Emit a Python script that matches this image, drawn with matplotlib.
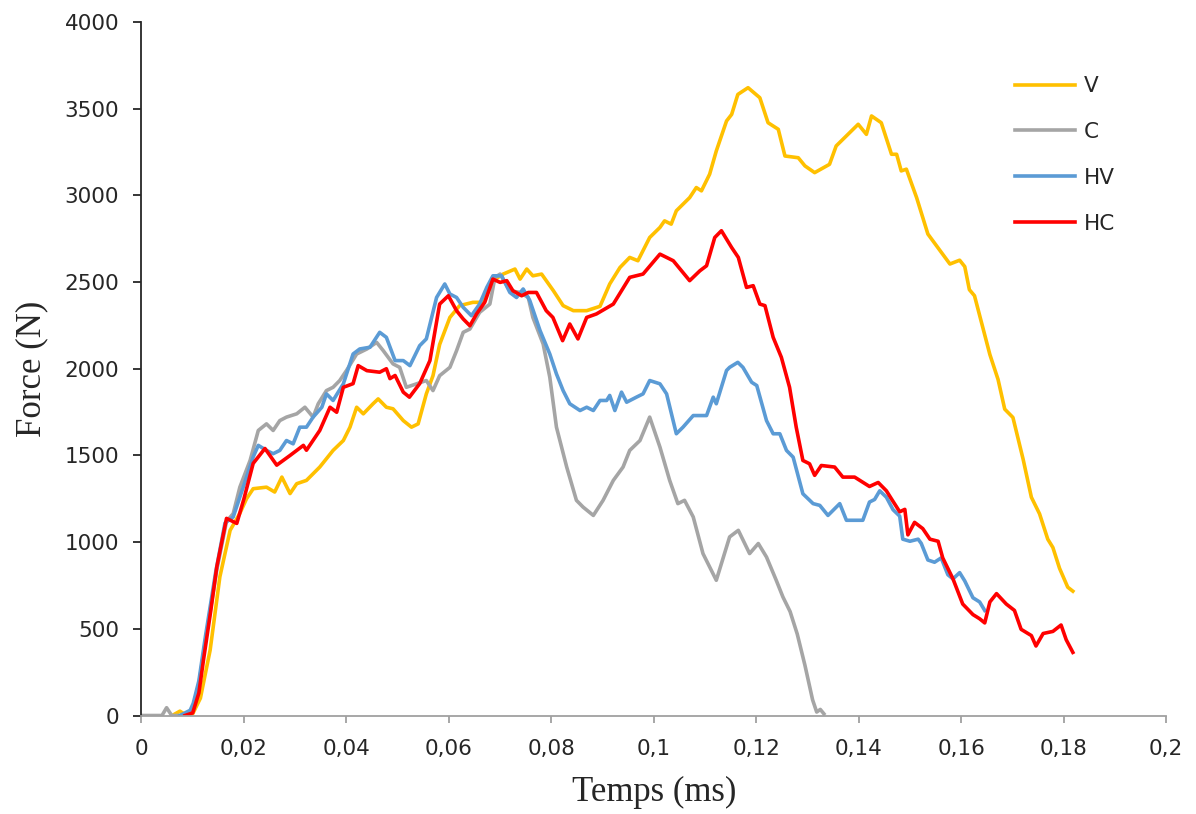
import numpy as np
import matplotlib
matplotlib.use("Agg")
import matplotlib.pyplot as plt

# values (time in ms, force in N)
v_t = [0.0060, 0.0075, 0.0088, 0.0100, 0.0115, 0.0134, 0.0153, 0.0173, 0.0192, 0.0205,
       0.0218, 0.0244, 0.0260, 0.0274, 0.0290, 0.0303, 0.0322, 0.0348, 0.0374, 0.0394,
       0.0407, 0.0420, 0.0433, 0.0452, 0.0462, 0.0478, 0.0491, 0.0511, 0.0527, 0.0540,
       0.0556, 0.0569, 0.0582, 0.0602, 0.0621, 0.0647, 0.0667, 0.0686, 0.0706, 0.0729,
       0.0739, 0.0752, 0.0764, 0.0781, 0.0804, 0.0823, 0.0843, 0.0869, 0.0895, 0.0914,
       0.0934, 0.0953, 0.0969, 0.0992, 0.1012, 0.1021, 0.1034, 0.1044, 0.1057, 0.1070,
       0.1083, 0.1093, 0.1109, 0.1122, 0.1142, 0.1152, 0.1164, 0.1184, 0.1207, 0.1223,
       0.1243, 0.1256, 0.1282, 0.1295, 0.1314, 0.1343, 0.1356, 0.1399, 0.1415, 0.1425,
       0.1444, 0.1464, 0.1474, 0.1483, 0.1493, 0.1513, 0.1535, 0.1578, 0.1597, 0.1607,
       0.1616, 0.1626, 0.1656, 0.1672, 0.1685, 0.1701, 0.1721, 0.1737, 0.1753, 0.1769,
       0.1779, 0.1792, 0.1808, 0.1818]
v_f = [0, 25, 0, 10, 100, 377, 800, 1068, 1166, 1250,
       1308, 1317, 1289, 1375, 1280, 1337, 1356, 1433, 1529, 1586,
       1663, 1778, 1740, 1798, 1826, 1778, 1769, 1701, 1663, 1682,
       1855, 1960, 2140, 2296, 2364, 2383, 2383, 2508, 2546, 2575,
       2517, 2575, 2536, 2546, 2450, 2364, 2335, 2335, 2360, 2489,
       2584, 2642, 2623, 2757, 2815, 2853, 2834, 2911, 2949, 2987,
       3045, 3026, 3122, 3256, 3429, 3467, 3582, 3621, 3563, 3419,
       3381, 3227, 3217, 3170, 3131, 3179, 3285, 3410, 3352, 3458,
       3419, 3237, 3237, 3141, 3151, 2987, 2777, 2604, 2626, 2589,
       2456, 2421, 2082, 1938, 1767, 1719, 1477, 1259, 1163, 1017,
       969, 849, 740, 717]

c_t = [0.0, 0.0040, 0.0049, 0.0059, 0.0090, 0.0100, 0.0112, 0.0127, 0.0147, 0.0166,
       0.0179, 0.0192, 0.0212, 0.0228, 0.0244, 0.0257, 0.0270, 0.0283, 0.0303, 0.0319,
       0.0335, 0.0345, 0.0361, 0.0374, 0.0387, 0.0400, 0.0420, 0.0440, 0.0459, 0.0472,
       0.0491, 0.0504, 0.0517, 0.0537, 0.0556, 0.0569, 0.0582, 0.0602, 0.0615, 0.0628,
       0.0641, 0.0660, 0.0680, 0.0690, 0.0700, 0.0719, 0.0739, 0.0755, 0.0764, 0.0784,
       0.0797, 0.0810, 0.0830, 0.0849, 0.0862, 0.0882, 0.0901, 0.0921, 0.0940, 0.0953,
       0.0973, 0.0992, 0.1012, 0.1031, 0.1047, 0.1060, 0.1077, 0.1096, 0.1122, 0.1148,
       0.1165, 0.1187, 0.1204, 0.1220, 0.1239, 0.1252, 0.1266, 0.1280, 0.1295, 0.1310,
       0.1318, 0.1325, 0.1332]
c_f = [0, 0, 45, 0, 0, 40, 180, 470, 840, 1120,
       1164, 1317, 1471, 1644, 1682, 1644, 1701, 1721, 1740, 1778,
       1721, 1798, 1874, 1893, 1932, 1989, 2085, 2114, 2152, 2104,
       2028, 2008, 1893, 1913, 1932, 1874, 1960, 2008, 2104, 2210,
       2229, 2325, 2373, 2527, 2546, 2450, 2440, 2411, 2296, 2143,
       1951, 1663, 1433, 1241, 1202, 1154, 1241, 1356, 1433, 1529,
       1586, 1721, 1548, 1356, 1222, 1241, 1145, 934, 780, 1030,
       1068, 934, 992, 914, 780, 684, 600, 470, 290, 90,
       20, 35, 10]

hv_t = [0.0075, 0.0095, 0.0101, 0.0112, 0.0125, 0.0145, 0.0163, 0.0179, 0.0200, 0.0218,
        0.0228, 0.0244, 0.0257, 0.0270, 0.0283, 0.0296, 0.0309, 0.0322, 0.0335, 0.0352,
        0.0361, 0.0374, 0.0394, 0.0413, 0.0426, 0.0446, 0.0465, 0.0478, 0.0495, 0.0511,
        0.0524, 0.0543, 0.0556, 0.0576, 0.0592, 0.0602, 0.0615, 0.0628, 0.0644, 0.0660,
        0.0674, 0.0686, 0.0703, 0.0719, 0.0732, 0.0745, 0.0758, 0.0778, 0.0797, 0.0810,
        0.0823, 0.0836, 0.0856, 0.0869, 0.0882, 0.0895, 0.0908, 0.0914, 0.0924, 0.0937,
        0.0947, 0.0966, 0.0979, 0.0992, 0.1012, 0.1025, 0.1044, 0.1057, 0.1077, 0.1103,
        0.1116, 0.1122, 0.1142, 0.1148, 0.1164, 0.1174, 0.1191, 0.1201, 0.1220, 0.1233,
        0.1246, 0.1259, 0.1272, 0.1291, 0.1311, 0.1324, 0.1340, 0.1363, 0.1376, 0.1408,
        0.1421, 0.1431, 0.1441, 0.1454, 0.1467, 0.1480, 0.1486, 0.1500, 0.1516, 0.1522,
        0.1535, 0.1548, 0.1561, 0.1574, 0.1584, 0.1597, 0.1607, 0.1623, 0.1636, 0.1646]
hv_f = [0, 30, 70, 200, 460, 830, 1110, 1145, 1330, 1491,
        1558, 1529, 1510, 1529, 1586, 1567, 1663, 1663, 1721, 1778,
        1855, 1817, 1913, 2085, 2114, 2124, 2210, 2181, 2047, 2047,
        2018, 2133, 2172, 2411, 2489, 2431, 2411, 2354, 2306, 2373,
        2469, 2536, 2536, 2440, 2411, 2460, 2393, 2220, 2085, 1970,
        1874, 1798, 1759, 1778, 1759, 1817, 1817, 1846, 1759, 1865,
        1807, 1836, 1855, 1932, 1913, 1855, 1625, 1663, 1730, 1730,
        1836, 1798, 1990, 2008, 2037, 2008, 1922, 1903, 1701, 1625,
        1625, 1529, 1490, 1279, 1222, 1212, 1154, 1222, 1126, 1126,
        1231, 1246, 1296, 1259, 1187, 1150, 1017, 1005, 1017, 993,
        897, 884, 909, 812, 788, 824, 776, 679, 655, 606]

hc_t = [0.0085, 0.0100, 0.0112, 0.0121, 0.0135, 0.0147, 0.0166, 0.0186, 0.0200, 0.0218,
        0.0241, 0.0264, 0.0290, 0.0316, 0.0322, 0.0348, 0.0368, 0.0381, 0.0394, 0.0413,
        0.0423, 0.0440, 0.0465, 0.0478, 0.0485, 0.0495, 0.0511, 0.0523, 0.0543, 0.0563,
        0.0582, 0.0599, 0.0615, 0.0628, 0.0641, 0.0654, 0.0670, 0.0686, 0.0700, 0.0713,
        0.0725, 0.0742, 0.0755, 0.0771, 0.0790, 0.0803, 0.0822, 0.0836, 0.0852, 0.0869,
        0.0888, 0.0921, 0.0953, 0.0979, 0.1012, 0.1038, 0.1070, 0.1090, 0.1103, 0.1119,
        0.1132, 0.1152, 0.1165, 0.1181, 0.1194, 0.1207, 0.1217, 0.1233, 0.1249, 0.1265,
        0.1278, 0.1291, 0.1304, 0.1314, 0.1327, 0.1353, 0.1369, 0.1392, 0.1421, 0.1438,
        0.1454, 0.1467, 0.1480, 0.1490, 0.1496, 0.1509, 0.1525, 0.1539, 0.1555, 0.1564,
        0.1584, 0.1603, 0.1623, 0.1636, 0.1646, 0.1656, 0.1669, 0.1688, 0.1704, 0.1717,
        0.1737, 0.1746, 0.1760, 0.1779, 0.1795, 0.1805, 0.1818]
hc_f = [0, 15, 130, 320, 600, 857, 1137, 1108, 1250, 1454,
        1540, 1444, 1500, 1558, 1530, 1644, 1778, 1749, 1893, 1914,
        2018, 1989, 1980, 2000, 1943, 1961, 1865, 1836, 1914, 2047,
        2373, 2421, 2335, 2287, 2248, 2316, 2383, 2517, 2498, 2508,
        2450, 2421, 2440, 2440, 2335, 2296, 2162, 2258, 2172, 2296,
        2316, 2373, 2527, 2546, 2661, 2623, 2508, 2565, 2594, 2757,
        2796, 2699, 2642, 2469, 2479, 2373, 2364, 2181, 2066, 1893,
        1663, 1471, 1452, 1385, 1442, 1433, 1375, 1375, 1321, 1344,
        1296, 1235, 1175, 1189, 1042, 1114, 1078, 1017, 1005, 909,
        788, 643, 582, 558, 534, 655, 703, 643, 606, 497,
        461, 401, 473, 485, 522, 437, 364]

series_names = ["V", "C", "HV", "HC"]
series_colors = ["#FFC000", "#A5A5A5", "#5B9BD5", "#FF0000"]

x_ticks = [0, 0.02, 0.04, 0.06, 0.08, 0.1, 0.12, 0.14, 0.16, 0.18, 0.2]
x_labels = ["0", "0,02", "0,04", "0,06", "0,08", "0,1", "0,12", "0,14", "0,16", "0,18", "0,2"]
y_ticks = [0, 500, 1000, 1500, 2000, 2500, 3000, 3500, 4000]

fig = plt.figure(figsize=(11.96, 8.14), dpi=100)
ax = fig.add_axes([0.1183, 0.121, 0.8567, 0.852])

data = [(v_t, v_f), (c_t, c_f), (hv_t, hv_f), (hc_t, hc_f)]
for (t, f), name, col in zip(data, series_names, series_colors):
    ax.plot(t, f, color=col, lw=2.6, label=name, solid_joinstyle="round")

ax.set_xlim(0, 0.2)
ax.set_ylim(0, 4000)
ax.set_xticks(x_ticks)
ax.set_xticklabels(x_labels)
ax.set_yticks(y_ticks)
ax.set_yticklabels([str(v) for v in y_ticks])

for s in ["top", "right"]:
    ax.spines[s].set_visible(False)
ax.spines["left"].set_color("#262626")
ax.spines["left"].set_linewidth(1.3)
ax.spines["bottom"].set_color("#A0A0A0")
ax.spines["bottom"].set_linewidth(1.3)

ax.tick_params(axis="y", direction="out", length=6, width=1.3, color="#262626",
               pad=10, labelsize=15.5, labelcolor="#262626")
ax.tick_params(axis="x", direction="out", length=5, width=1.3, color="#A0A0A0",
               pad=12, labelsize=15.5, labelcolor="#262626")
for lab in ax.get_xticklabels() + ax.get_yticklabels():
    lab.set_family("DejaVu Sans")

ax.set_xlabel("Temps (ms)", family="Liberation Serif", fontsize=25, color="#262626", labelpad=12)
ax.set_ylabel("Force (N)", family="Liberation Serif", fontsize=25, color="#262626", labelpad=12)

leg = ax.legend(loc="upper left", bbox_to_anchor=(0.8487, 0.9065), bbox_transform=fig.transFigure,
                frameon=False, fontsize=15.5, handlelength=2.8, handletextpad=0.4,
                labelspacing=1.2, borderpad=0, borderaxespad=0)
for txt in leg.get_texts():
    txt.set_family("DejaVu Sans")
    txt.set_color("#262626")

fig.savefig("out.png", dpi=100)
